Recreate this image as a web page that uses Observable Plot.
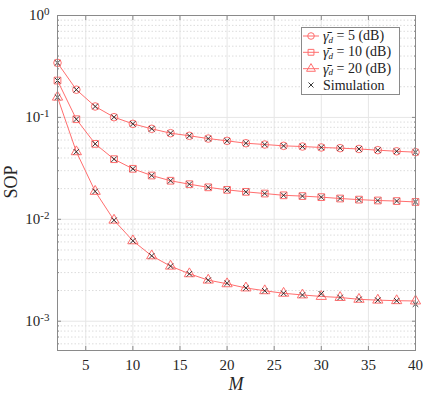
<!DOCTYPE html>
<html>
<head>
<meta charset="utf-8">
<script src="https://cdn.jsdelivr.net/npm/d3@7"></script>
<script src="https://cdn.jsdelivr.net/npm/@observablehq/plot@0.6"></script>
<style>
  html, body { margin: 0; padding: 0; background: #fff; }
  #chart svg { font-family: "Liberation Serif", "DejaVu Serif", serif; }
</style>
</head>
<body>
<div id="chart"></div>
<script>
// ---- data ----
const M = [2, 4, 6, 8, 10, 12, 14, 16, 18, 20, 22, 24, 26, 28, 30, 32, 34, 36, 38, 40];
const sop5  = [0.343, 0.187, 0.128, 0.1005, 0.0865, 0.0773, 0.0700, 0.0660, 0.0620, 0.0589, 0.0558, 0.0542, 0.0526, 0.0518, 0.0507, 0.0499, 0.0490, 0.0477, 0.0465, 0.0456];
const sop10 = [0.230, 0.096, 0.055, 0.0389, 0.0313, 0.0269, 0.0239, 0.0221, 0.0206, 0.01946, 0.0186, 0.0179, 0.0172, 0.0169, 0.0165, 0.0160, 0.0156, 0.0153, 0.0151, 0.0148];
const sop20 = [0.158, 0.046, 0.0188, 0.0098, 0.00615, 0.00438, 0.00347, 0.00292, 0.00253, 0.00233, 0.00212, 0.00199, 0.00188, 0.00181, 0.00175, 0.00171, 0.00164, 0.00161, 0.00159, 0.00158];
const sim5  = [0.343, 0.187, 0.128, 0.1005, 0.0865, 0.0773, 0.0700, 0.0660, 0.0620, 0.0589, 0.0558, 0.0542, 0.0526, 0.0518, 0.0507, 0.0499, 0.0490, 0.0477, 0.0465, 0.0456];
const sim10 = [0.230, 0.096, 0.055, 0.0389, 0.0313, 0.0269, 0.0239, 0.0221, 0.0206, 0.01946, 0.0186, 0.0179, 0.0172, 0.0169, 0.0165, 0.0160, 0.0156, 0.0153, 0.0151, 0.0148];
const sim20 = [0.158, 0.046, 0.0188, 0.0098, 0.00615, 0.00438, 0.00347, 0.00292, 0.00253, 0.00236, 0.00212, 0.00199, 0.00188, 0.00181, 0.00186, 0.00171, 0.00164, 0.00161, 0.00159, 0.00147];
const seriesLabels = ["5", "10", "20"];
const seriesSymbols = ["circle", "square", "triangle"];
const xTicks = [5, 10, 15, 20, 25, 30, 35, 40];
const yMajor = [1e-3, 1e-2, 1e-1, 1];
const yMinor = [];
for (const d of [1e-4, 1e-3, 1e-2, 1e-1]) for (let k = 2; k <= 9; k++) { const v = d * k; if (v > 5.1e-4) yMinor.push(v); }

const red = "#ff6e6e";
const axisGray = "#8a8a8a";

const rows = (ys) => M.map((m, i) => ({M: m, v: ys[i]}));
const analytic = [sop5, sop10, sop20];
const sims = [sim5, sim10, sim20];

const marks = [
  Plot.gridX({ticks: xTicks, stroke: "#e6e6e6", strokeOpacity: 1}),
  Plot.gridY({ticks: yMinor, stroke: "#dcdcdc", strokeOpacity: 1, strokeDasharray: "1.5,2"}),
  Plot.gridY({ticks: yMajor, stroke: "#e6e6e6", strokeOpacity: 1}),
];
analytic.forEach((ys, i) => {
  marks.push(Plot.line(rows(ys), {x: "M", y: "v", stroke: red, strokeWidth: 1}));
  marks.push(Plot.dot(rows(ys), {x: "M", y: "v", symbol: () => seriesSymbols[i], r: 3.8, stroke: red, strokeWidth: 1, fill: "none"}));
});
sims.forEach((ys) => {
  marks.push(Plot.dot(rows(ys), {x: "M", y: "v", symbol: "times", r: 2.6, stroke: "#222", strokeWidth: 0.9}));
});
marks.push(
  Plot.frame({stroke: axisGray}),
  // inward tick marks
  Plot.axisX({anchor: "bottom", ticks: xTicks, tickSize: -4, text: null, stroke: axisGray, label: null}),
  Plot.axisX({anchor: "top", ticks: xTicks, tickSize: -4, text: null, stroke: axisGray, label: null}),
  Plot.axisY({anchor: "left", ticks: yMajor, tickSize: -4, text: null, stroke: axisGray, label: null}),
  Plot.axisY({anchor: "right", ticks: yMajor, tickSize: -4, text: null, stroke: axisGray, label: null}),
  Plot.axisY({anchor: "left", ticks: yMinor, tickSize: -2, text: null, stroke: axisGray, label: null}),
  Plot.axisY({anchor: "right", ticks: yMinor, tickSize: -2, text: null, stroke: axisGray, label: null}),
  // labels
  Plot.axisX({anchor: "bottom", ticks: xTicks, tickSize: 0, tickPadding: 9, fontSize: 15, fill: "#262626", label: null}),
  Plot.axisY({anchor: "left", ticks: yMajor, tickSize: 0, tickPadding: 8, fontSize: 15, fill: "#262626", label: null,
    tickFormat: d => "10|" + Math.round(Math.log10(d))})
);

const plot = Plot.plot({
  width: 432,
  height: 395,
  marginLeft: 57,
  marginRight: 17,
  marginTop: 15,
  marginBottom: 45,
  style: {fontFamily: "'Liberation Serif', 'DejaVu Serif', serif", background: "#fff"},
  x: {domain: [2, 40]},
  y: {type: "log", domain: [5.16e-4, 1]},
  marks
});
document.getElementById("chart").appendChild(plot);

const svg = d3.select(plot);
// superscript exponents on y labels
svg.selectAll("text").each(function() {
  const t = this.textContent;
  if (!t.includes("|")) return;
  const [base, exp] = t.split("|");
  const el = d3.select(this);
  el.text(null);
  el.append("tspan").text(base);
  el.append("tspan").attr("dy", "-0.5em").attr("font-size", "11px").text(exp);
});

// axis titles
svg.append("text").attr("x", 236).attr("y", 390).attr("text-anchor", "middle")
  .attr("font-size", 18).attr("font-style", "italic").attr("fill", "#262626").text("M");
svg.append("text").attr("transform", "translate(17,182) rotate(-90)").attr("text-anchor", "middle")
  .attr("font-size", 18).attr("fill", "#262626").text("SOP");

// legend
const lg = svg.append("g").attr("text-anchor", "start");
lg.append("rect").attr("x", 301.5).attr("y", 27.5).attr("width", 98).attr("height", 67)
  .attr("fill", "#fff").attr("stroke", axisGray).attr("stroke-width", 1);
const legY = [36, 52.3, 68.7, 85];
const symGen = {circle: d3.symbolCircle, square: d3.symbolSquare, triangle: d3.symbolTriangle};
seriesLabels.forEach((lab, i) => {
  const y = legY[i];
  lg.append("line").attr("x1", 303).attr("x2", 319).attr("y1", y).attr("y2", y).attr("stroke", red).attr("stroke-width", 1);
  lg.append("path").attr("transform", `translate(311,${y})`)
    .attr("d", d3.symbol(symGen[seriesSymbols[i]], Math.PI * 3.3 * 3.3)())
    .attr("fill", "none").attr("stroke", red).attr("stroke-width", 1);
  const t = lg.append("text").attr("x", 323).attr("y", y).attr("dy", "0.35em").attr("font-size", 14).attr("fill", "#222").attr("text-anchor", "start");
  t.append("tspan").attr("font-style", "italic").text("γ\u0304");
  t.append("tspan").attr("font-style", "italic").attr("font-size", 9).attr("dy", "0.2em").text("d");
  t.append("tspan").attr("dy", "-0.2em").text(` = ${lab} (dB)`);
});
lg.append("path").attr("transform", `translate(311,${legY[3]})`)
  .attr("d", d3.symbol(d3.symbolTimes, Math.PI * 2.4 * 2.4)())
  .attr("fill", "none").attr("stroke", "#222").attr("stroke-width", 0.9);
lg.append("text").attr("x", 323).attr("y", legY[3]).attr("dy", "0.35em").attr("font-size", 14).attr("fill", "#222").attr("text-anchor", "start").text("Simulation");
</script>
</body>
</html>
